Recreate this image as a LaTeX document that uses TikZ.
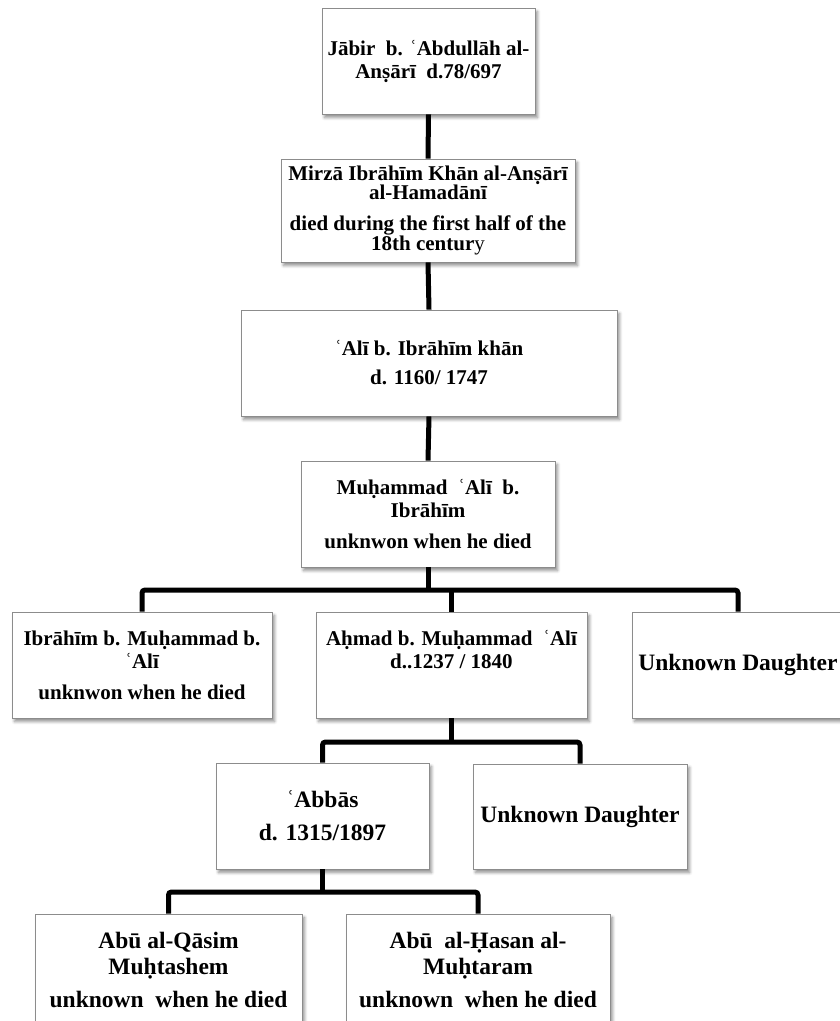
\documentclass[tikz,border=0pt]{standalone}
\usepackage{fontspec}
\setmainfont{Liberation Serif}
\usetikzlibrary{shadows.blur}
\definecolor{boxgray}{RGB}{140,140,140}
\begin{document}
\begin{tikzpicture}[x=1pt,y=-1pt,
  box/.style={draw=boxgray, line width=0.9pt, fill=white, minimum height=106pt,
    inner sep=2pt, align=center, font=\fontsize{21}{23}\selectfont\bfseries,
    blur shadow={shadow xshift=2.5pt, shadow yshift=-3.5pt, shadow blur steps=6,
      shadow opacity=45, shadow blur radius=3pt}},
  big/.style={font=\fontsize{23.5}{26}\selectfont\bfseries},
  link/.style={line width=5pt, rounded corners=3pt}]
\useasboundingbox (0,0) rectangle (839,1021);

% generation boxes
\node[box, minimum width=213pt] (b1) at (428.5,61)
  {Jābir\ \ b. ʿAbdullāh al-\\Anṣārī\ \ d.78/697};
\node[box, minimum width=294pt, minimum height=103pt,
      font=\fontsize{21}{19}\selectfont\bfseries] (b2) at (428,210.5)
  {Mirzā Ibrāhīm Khān al-Anṣārī\\al-Hamadānī\\[12pt]died during the first half of the\\18th centur\textmd{y}};
\node[box, minimum width=376pt] (b3) at (429,363)
  {ʿAlī b. Ibrāhīm khān\\[6pt]d. 1160/ 1747};
\node[box, minimum width=254pt] (b4) at (428,514)
  {Muḥammad\ \ ʿAlī\ \ b.\\Ibrāhīm\\[8pt]unknwon when he died};

\node[box, minimum width=260pt] (ibr) at (142,665)
  {Ibrāhīm b. Muḥammad b.\\ʿAlī\\[8pt]unknwon when he died};
\node[box, minimum width=271pt] (ahm) at (451.5,665)
  {Aḥmad b. Muḥammad\ \ ʿAlī\\d..1237 / 1840\\[8pt]\vphantom{unknwon when he died}};
\node[box, big, minimum width=212pt] (dau1) at (738,665) {Unknown Daughter};

\node[box, big, minimum width=213pt] (abb) at (322.5,816)
  {ʿAbbās\\[7pt]d. 1315/1897};
\node[box, big, minimum width=214pt, minimum height=105pt] (dau2) at (580,816.5)
  {Unknown Daughter};

\node[box, big, minimum width=267pt, minimum height=112pt] (aq) at (168.5,970)
  {Abū al-Qāsim\\Muḥtashem\\[7pt]unknown\ \ when he died};
\node[box, big, minimum width=264pt, minimum height=112pt] (ah) at (478,970)
  {Abū\ \ al-Ḥasan al-\\Muḥtaram\\[7pt]unknown\ \ when he died};

% junctions
\coordinate (j1) at (428,590);
\coordinate (j2) at (451.5,742);
\coordinate (j3) at (322.5,892);

% connectors
\draw[link] (b1.south) -- (b2.north);
\draw[link] (b2.south) -- (b3.north);
\draw[link] (b3.south) -- (b4.north);
\draw[link] (b4.south) -- (j1);
\draw[link] (ibr.north) |- (j1) -| (dau1.north);
\draw[link] (ahm.north) -- (ahm.north |- j1);
\draw[link] (ahm.south) -- (j2);
\draw[link] (abb.north) |- (j2) -| (dau2.north);
\draw[link] (abb.south) -- (j3);
\draw[link] (aq.north) |- (j3) -| (ah.north);
\end{tikzpicture}
\end{document}
